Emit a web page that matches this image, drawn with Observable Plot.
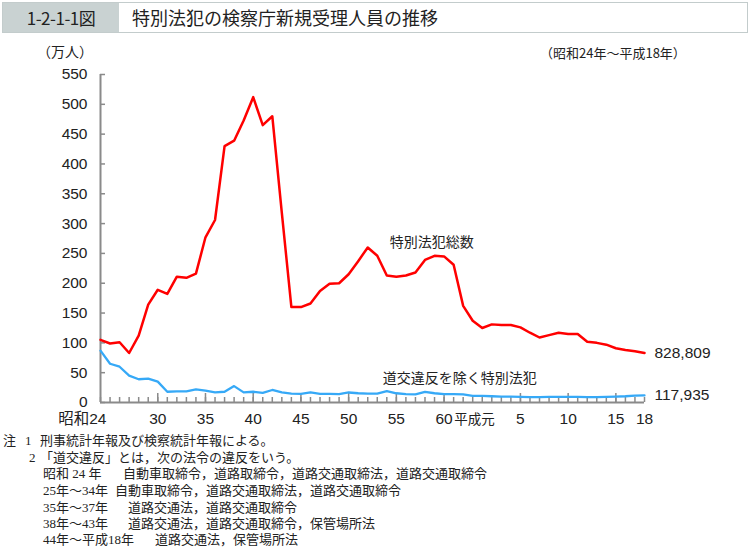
<!DOCTYPE html>
<html>
<head>
<meta charset="utf-8">
<script src="https://cdn.jsdelivr.net/npm/d3@7"></script>
<script src="https://cdn.jsdelivr.net/npm/@observablehq/plot@0.6"></script>
<style>
  html, body { margin: 0; padding: 0; background: #fff; }
  #page { position: relative; width: 750px; height: 552px; overflow: hidden; font-family: "Noto Sans CJK JP", sans-serif; color: #222; }
  .abs { position: absolute; white-space: nowrap; }
  #titlebar { position: absolute; left: 2px; top: 2px; width: 744px; height: 29px; border: 1px solid #c3cccc; background: #fff; }
  #titlebar .num { position: absolute; left: 0; top: 0; width: 116px; height: 29px; background: #c9d2d2; line-height: 29px; text-align: center; font-size: 17px; letter-spacing: -0.5px; }
  #titlebar .ttl { position: absolute; left: 129px; top: 0; height: 29px; line-height: 29px; font-size: 18px; }
  .note { font-family: "Liberation Serif", "Noto Sans CJK JP", serif; font-size: 13px; line-height: 15px; }
  #chart { position: absolute; left: 0; top: 40px; }
</style>
</head>
<body>
<div id="page">
  <div id="titlebar"><div class="num">1-2-1-1図</div><div class="ttl">特別法犯の検察庁新規受理人員の推移</div></div>
  <div class="abs" style="left:37px; top:41px; font-size:14px;">（万人）</div>
  <div class="abs" style="left:540px; top:43px; font-size:13px;">（昭和24年～平成18年）</div>
  <div id="chart"></div>
  <div id="notes"></div>
</div>
<script>
// ---- data (万人) ----
const years = [1949,1950,1951,1952,1953,1954,1955,1956,1957,1958,1959,1960,1961,1962,1963,1964,1965,1966,1967,1968,
               1969,1970,1971,1972,1973,1974,1975,1976,1977,1978,1979,1980,1981,1982,1983,1984,1985,1986,1987,1988,
               1989,1990,1991,1992,1993,1994,1995,1996,1997,1998,1999,2000,2001,2002,2003,2004,2005,2006];
const totalValues = [105,99,101,83,112,164,189,182,211,209,216,277,306,430,439,473,512,465,480,318,
                     160,160,166,187,199,200,215,237,260,246,213,211,213,218,239,246,245,231,162,137,
                     125,131,130,130,126,117,109,113,117,115,115,102,100,97,91,88,86,82.8809];
const otherValues = [87,65,60,45,39,40,35,18,18.5,18.5,22,20,17,18,27.5,17,18,16,21,17,
                     15,14.6,16.8,14.6,14.6,14,16.8,15.5,15,15,19,15.5,14,13.5,17.8,15.5,14,14,13.5,11.2,
                     11,10.5,10,10,9.5,9,9,9.5,9.5,9.5,9.5,9,9,9.5,10,10.5,11.5,11.7935];
const seriesNames = ["特別法犯総数", "道交違反を除く特別法犯"];
const endLabels = ["828,809", "117,935"];
const yTicks = [0,50,100,150,200,250,300,350,400,450,500,550];
const xTickYears = [1949,1955,1960,1965,1970,1975,1980,1985,1989,1993,1998,2003,2006];
const xTickLabels = ["昭和24","30","35","40","45","50","55","60","平成元","5","10","15","18"];
const majorTickYears = [1955,1960,1965,1970,1975,1980,1985,1993,1998,2003];

const notes = [
  ["注", "1", "刑事統計年報及び検察統計年報による。"],
  ["", "2", "「道交違反」とは，次の法令の違反をいう。"],
  ["昭和 24 年", "自動車取締令，道路取締令，道路交通取締法，道路交通取締令"],
  ["25年～34年", "自動車取締令，道路交通取締法，道路交通取締令"],
  ["35年～37年", "道路交通法，道路交通取締令"],
  ["38年～43年", "道路交通法，道路交通取締令，保管場所法"],
  ["44年～平成18年", "道路交通法，保管場所法"]
];

// ---- chart ----
const rows = years.map((y, i) => ({year: y, total: totalValues[i], other: otherValues[i]}));
const W = 750, H = 390, mL = 100, mR = 106, mT = 34, mB = 28;
const fw = W - mL - mR, fh = H - mT - mB;
const numFont = "'Liberation Sans', Arial, 'Noto Sans CJK JP', sans-serif";
const axisColor = "#8a8a8a";
const red = "#ff0000", blue = "#36a9f7";

const midIdx = xTickYears.map((d, i) => i).filter(i => xTickLabels[i] !== "昭和24" && xTickLabels[i] !== "平成元");
const firstIdx = [xTickLabels.indexOf("昭和24")];
const heiseiIdx = [xTickLabels.indexOf("平成元")];
const last = rows[rows.length - 1];

const chart = Plot.plot({
  width: W, height: H,
  marginLeft: mL, marginRight: mR, marginTop: mT, marginBottom: mB,
  x: {domain: [years[0], years[years.length - 1]], axis: null},
  y: {domain: [0, 550], axis: null},
  style: {fontFamily: numFont, fontSize: "15px", color: "#222", background: "transparent", overflow: "visible"},
  marks: [
    Plot.tickX(years, {x: d => d, insetTop: fh - 5, stroke: axisColor, strokeWidth: 1.5}),
    Plot.tickX(majorTickYears, {x: d => d, insetTop: fh - 9, stroke: axisColor, strokeWidth: 1.5}),
    Plot.tickY(yTicks, {y: d => d, insetRight: fw - 5, stroke: axisColor, strokeWidth: 1.5}),
    Plot.ruleY([0], {x1: years[0], x2: years[years.length - 1], stroke: axisColor, strokeWidth: 2}),
    Plot.ruleX([years[0]], {y1: 0, y2: 550, stroke: axisColor, strokeWidth: 2}),
    Plot.text(yTicks, {x: years[0], y: d => d, text: d => String(d), textAnchor: "end", dx: -13, fontSize: 15.5}),
    Plot.text(midIdx, {x: i => xTickYears[i], y: 0, text: i => xTickLabels[i], dy: 17, fontSize: 15.5}),
    Plot.text(firstIdx, {x: i => xTickYears[i], y: 0, text: i => xTickLabels[i], dy: 17, dx: 6, textAnchor: "end", fontSize: 15.5}),
    Plot.text(heiseiIdx, {x: i => xTickYears[i], y: 0, text: i => xTickLabels[i], dy: 17, dx: -28, textAnchor: "start", fontSize: 13.5}),
    Plot.line(rows, {x: "year", y: "other", stroke: blue, strokeWidth: 2.3}),
    Plot.line(rows, {x: "year", y: "total", stroke: red, strokeWidth: 2.5}),
    Plot.text([last], {x: "year", y: "total", text: () => endLabels[0], textAnchor: "start", dx: 10, fontSize: 15.5}),
    Plot.text([last], {x: "year", y: "other", text: () => endLabels[1], textAnchor: "start", dx: 10, fontSize: 15.5}),
    Plot.text(rows.filter(r => r.year === 1977), {x: "year", y: "total", text: () => seriesNames[0], textAnchor: "start", dx: 22, dy: -5, fontSize: 14}),
    Plot.text(rows.filter(r => r.year === 1979), {x: "year", y: "other", text: () => seriesNames[1], textAnchor: "start", dx: -4, dy: -13, fontSize: 14})
  ]
});
document.getElementById("chart").appendChild(chart);

// ---- notes ----
const notesEl = document.getElementById("notes");
const rowTops = [433, 450, 466, 483, 500, 516, 532];
const col2 = [null, null, 123, 115, 128, 128, 155];
notes.forEach((n, i) => {
  const add = (txt, left) => {
    const d = document.createElement("div");
    d.className = "abs note";
    d.style.left = left + "px";
    d.style.top = rowTops[i] + "px";
    d.textContent = txt;
    notesEl.appendChild(d);
  };
  if (i < 2) {
    if (n[0]) add(n[0], 3);
    add(n[1], i === 0 ? 25 : 29);
    add(n[2], 40);
  } else {
    add(n[0], 43);
    add(n[1], col2[i]);
  }
});
</script>
</body>
</html>
